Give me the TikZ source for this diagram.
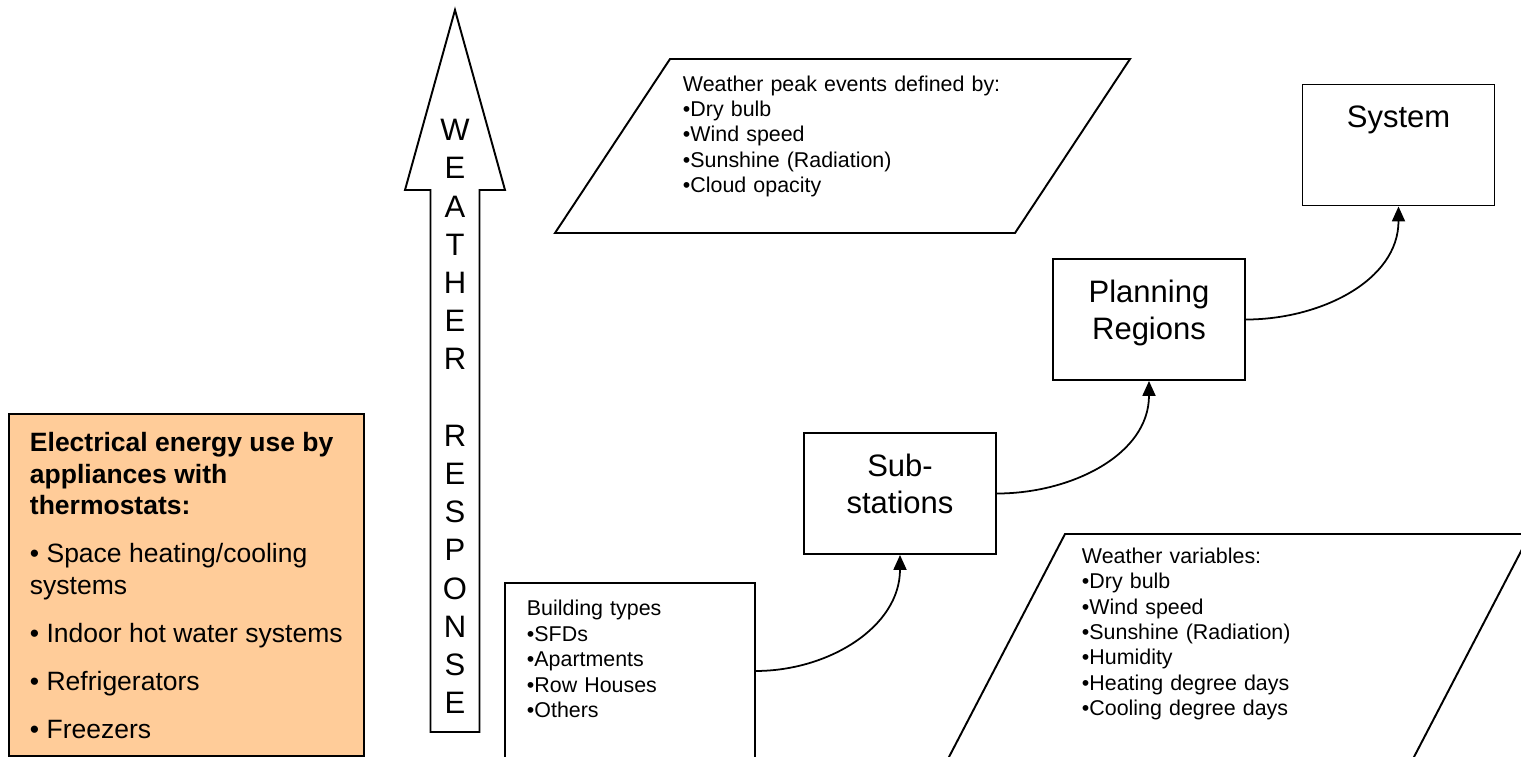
\documentclass[tikz,border=0pt]{standalone}
\usepackage{fontspec}
\setmainfont{Liberation Sans}
\usetikzlibrary{arrows.meta}
\definecolor{peach}{HTML}{FFCC99}

\begin{document}
\begin{tikzpicture}[x=0.5691pt, y=-0.5691pt, line width=1.1pt,
  box/.style={draw, inner sep=0pt, text width=109.27pt, align=center,
    text height=24.47pt, text depth=44.39pt, font=\fontsize{17.64}{21.06}\selectfont},
  small/.style={inner sep=0pt, anchor=base west, text width=200pt, align=left, font=\fontsize{12.18}{14.51}\selectfont},
  link/.style={-{Triangle[length=8.5pt,width=7.4pt]}, line width=1pt}]

\useasboundingbox (0,0) rectangle (1521,756);

\node[draw, fill=peach, anchor=north west, align=left, inner xsep=11.95pt, inner ysep=0pt,
  text height=184.67pt, text depth=9.96pt, font=\fontsize{15.08}{17.93}\selectfont] (appl) at (8,413)
  {\textbf{Electrical energy use by}\\\textbf{appliances with}\\\textbf{thermostats:}\\[9.39pt]
   • Space heating/cooling\\systems\\[9.39pt]• Indoor hot water systems\\[9.39pt]
   • Refrigerators\\[9.39pt]• Freezers};

\draw (430.5,732) -- (430.5,190) -- (405,190) -- (455,10) -- (505,190) -- (479.5,190) -- (479.5,732) -- cycle;
\node[inner sep=0pt, align=center, font=\fontsize{17.64}{21.74}\selectfont] (resp) at (455,416.5)
  {W\\E\\A\\T\\H\\E\\R\\ \\R\\E\\S\\P\\O\\N\\S\\E};

\draw (670,59) -- (1130,59) -- (1015,233) -- (555,233) -- cycle;
\node[small] (peak) at (682,91) {Weather peak events defined by:\\•Dry bulb\\•Wind speed\\•Sunshine (Radiation)\\•Cloud opacity};

\begin{scope}
\clip (0,0) rectangle (1521,756);
\draw (1065,534) -- (1530,534) -- (1402,780) -- (937,780) -- cycle;
\end{scope}
\node[small] (wvars) at (1081,563) {Weather variables:\\•Dry bulb\\•Wind speed\\•Sunshine (Radiation)\\•Humidity\\•Heating degree days\\•Cooling degree days};

\node[draw, anchor=north west, align=left, inner xsep=12.52pt, inner ysep=0pt, text width=117.23pt,
  text height=18.78pt, text depth=81.38pt, font=\fontsize{12.18}{14.51}\selectfont] (bldg) at (504,582)
  {Building types\\•SFDs\\•Apartments\\•Row Houses\\•Others};

\node[box] (sub) at (900,493.5) {Sub-\\stations};
\node[box] (plan) at (1149,319.5) {Planning\\Regions};
\node[box] (sys) at (1398.5,145) {System};

\draw[link] (bldg.east) to[out=0, in=-90] (sub.south);
\draw[link] (sub.east) to[out=0, in=-90] (plan.south);
\draw[link] (plan.east) to[out=0, in=-90] (sys.south);

\end{tikzpicture}
\end{document}
